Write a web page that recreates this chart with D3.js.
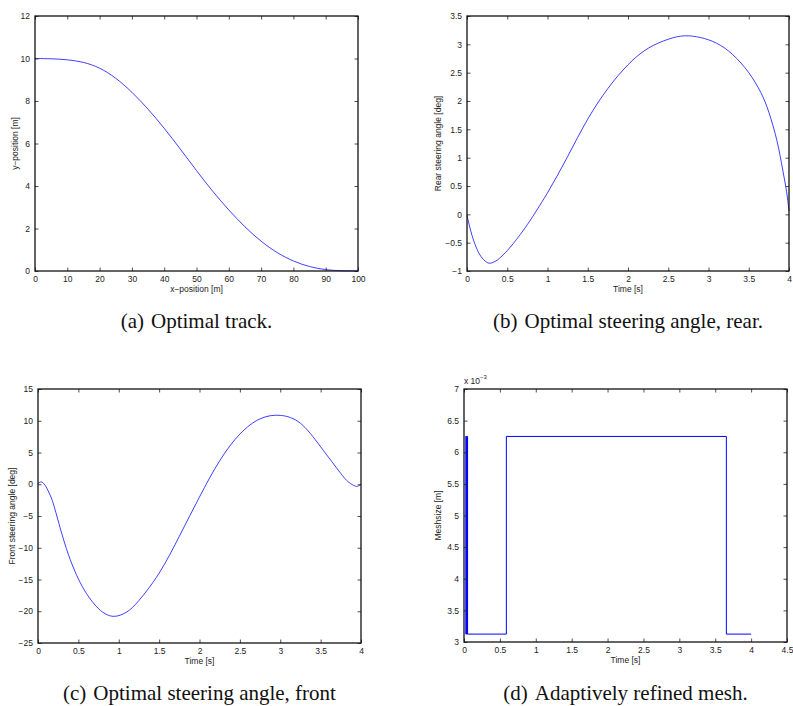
<!DOCTYPE html>
<html>
<head>
<meta charset="utf-8">
<script src="https://cdn.jsdelivr.net/npm/d3@7"></script>
<style>
  body { margin: 0; background: #fff; }
  svg { display: block; }
  .tick text { font-family: "Liberation Sans", Arial, sans-serif; font-size: 8.5px; fill: #222; }
  .lbl { font-family: "Liberation Sans", Arial, sans-serif; font-size: 8.5px; fill: #222; }
  .cap { font-family: "Liberation Serif", "Times New Roman", serif; font-size: 21px; fill: #111; }
</style>
</head>
<body>
<svg id="container"></svg>
<script>
// (a) optimal track
const trackX = [0, 5, 10, 15, 20, 25, 30, 35, 40, 45, 50, 55, 60, 65, 70, 75, 80, 85, 90, 95, 100]
const trackY = [10, 9.99, 9.95, 9.84, 9.58, 9.1, 8.43, 7.63, 6.73, 5.74, 4.72, 3.74, 2.86, 2.06, 1.38, 0.84, 0.45, 0.19, 0.05, 0.005, 0]

// (b) rear steering angle [deg]
const rearT = [0, 0.05, 0.1, 0.15, 0.2, 0.25, 0.3, 0.35, 0.4, 0.5, 0.6, 0.75, 1, 1.25, 1.5, 1.75, 2, 2.25, 2.5, 2.7, 2.9, 3.1, 3.3, 3.5, 3.65, 3.75, 3.85, 3.92, 3.97, 4]
const rearA = [-0.02, -0.31, -0.53, -0.69, -0.79, -0.85, -0.86, -0.83, -0.78, -0.64, -0.47, -0.18, 0.38, 1.02, 1.68, 2.22, 2.64, 2.93, 3.09, 3.15, 3.12, 3.02, 2.82, 2.5, 2.15, 1.8, 1.3, 0.8, 0.4, 0.06]

// (c) front steering angle [deg]
const frontT = [0, 0.03, 0.06, 0.1, 0.15, 0.2, 0.3, 0.4, 0.5, 0.6, 0.75, 0.93, 1.1, 1.25, 1.5, 1.75, 2, 2.25, 2.5, 2.75, 3, 3.25, 3.5, 3.75, 3.85, 3.93, 3.97, 4]
const frontA = [0.1, 0.35, 0.25, -0.4, -1.7, -3.5, -8.0, -11.9, -14.9, -17.2, -19.6, -20.8, -20.1, -18.3, -14.0, -8.2, -2.0, 3.7, 7.9, 10.3, 10.85, 9.6, 5.9, 1.7, 0.3, -0.3, -0.25, 0.0]

// (d) mesh size [m] x 1e-3, step function (value holds until next time)
const meshT = [0.02, 0.026, 0.032, 0.038, 0.044, 0.05, 0.59, 3.655, 4.0]
const meshH = [6.25, 3.125, 6.25, 3.125, 6.25, 3.125, 6.25, 3.125, 3.125]

// tick labels
const ticksA_x = [0, 10, 20, 30, 40, 50, 60, 70, 80, 90, 100]
const ticksA_y = [0, 2, 4, 6, 8, 10, 12]
const ticksB_x = [0, 0.5, 1, 1.5, 2, 2.5, 3, 3.5, 4]
const ticksB_y = [-1, -0.5, 0, 0.5, 1, 1.5, 2, 2.5, 3, 3.5]
const ticksC_x = [0, 0.5, 1, 1.5, 2, 2.5, 3, 3.5, 4]
const ticksC_y = [-25, -20, -15, -10, -5, 0, 5, 10, 15]
const ticksD_x = [0, 0.5, 1, 1.5, 2, 2.5, 3, 3.5, 4, 4.5]
const ticksD_y = [3, 3.5, 4, 4.5, 5, 5.5, 6, 6.5, 7]

const zip = (a, b) => a.map((v, i) => [v, b[i]])

const panels = [
	{ box: [35, 16, 358, 271], xd: [0, 100], yd: [0, 12], xt: ticksA_x, yt: ticksA_y,
	  data: zip(trackX, trackY), curve: d3.curveBasis, width: 0.75,
	  xlab: "x\u2212position [m]", ylab: "y\u2212position [m]", ylx: 15,
	  cap: ["(a)", "Optimal track."], capY: 328 },
	{ box: [467, 16, 789, 271], xd: [0, 4], yd: [-1, 3.5], xt: ticksB_x, yt: ticksB_y,
	  data: zip(rearT, rearA), curve: d3.curveNatural, width: 0.75,
	  xlab: "Time [s]", ylab: "Rear steering angle [deg]", ylx: 438,
	  cap: ["(b)", "Optimal steering angle, rear."], capY: 328 },
	{ box: [38, 389, 361, 643], xd: [0, 4], yd: [-25, 15], xt: ticksC_x, yt: ticksC_y,
	  data: zip(frontT, frontA), curve: d3.curveNatural, width: 0.75,
	  xlab: "Time [s]", ylab: "Front steering angle [deg]", ylx: 12,
	  cap: ["(c)", "Optimal steering angle, front"], capY: 700 },
	{ box: [464, 389, 787, 642], xd: [0, 4.5], yd: [3, 7], xt: ticksD_x, yt: ticksD_y,
	  data: zip(meshT, meshH), curve: d3.curveStepAfter, width: 1,
	  xlab: "Time [s]", ylab: "Meshsize [m]", ylx: 438,
	  cap: ["(d)", "Adaptively refined mesh."], capY: 700, expo: true }
]

const fmt = d => d3.format("")(d)

const drawPanel = (svg, p) => {
	const [x0, y0, x1, y1] = p.box
	const x = d3.scaleLinear().domain(p.xd).range([x0, x1])
	const y = d3.scaleLinear().domain(p.yd).range([y1, y0])
	const g = svg.append("g")

	// curve
	g.append("path")
	 .attr("d", d3.line().x(d => x(d[0])).y(d => y(d[1])).curve(p.curve)(p.data))
	 .attr("fill", "none")
	 .attr("stroke", "#0000ff")
	 .attr("stroke-width", p.width)

	// axes, ticks pointing inward on all four sides
	const tl = 3.5
	g.append("g").attr("transform", `translate(0,${y1})`)
	 .call(d3.axisBottom(x).tickValues(p.xt).tickFormat(fmt).tickSizeInner(-tl).tickSizeOuter(0).tickPadding(5))
	g.append("g").attr("transform", `translate(0,${y0})`)
	 .call(d3.axisTop(x).tickValues(p.xt).tickFormat("").tickSizeInner(-tl).tickSizeOuter(0))
	g.append("g").attr("transform", `translate(${x0},0)`)
	 .call(d3.axisLeft(y).tickValues(p.yt).tickFormat(fmt).tickSizeInner(-tl).tickSizeOuter(0).tickPadding(5))
	g.append("g").attr("transform", `translate(${x1},0)`)
	 .call(d3.axisRight(y).tickValues(p.yt).tickFormat("").tickSizeInner(-tl).tickSizeOuter(0))
	g.selectAll(".domain").remove()
	g.selectAll(".tick line").attr("stroke", "#222").attr("stroke-width", 0.8)

	g.append("rect")
	 .attr("x", x0).attr("y", y0)
	 .attr("width", x1 - x0).attr("height", y1 - y0)
	 .attr("fill", "none").attr("stroke", "#111").attr("stroke-width", 1.3)

	g.append("text").attr("class", "lbl")
	 .attr("x", (x0 + x1) / 2).attr("y", y1 + 21)
	 .attr("text-anchor", "middle").text(p.xlab)
	g.append("text").attr("class", "lbl")
	 .attr("transform", `translate(${p.ylx},${(y0 + y1) / 2}) rotate(-90)`)
	 .attr("text-anchor", "middle").attr("dy", "0.35em").text(p.ylab)

	if (p.expo) {
		const t = g.append("text").attr("class", "lbl").attr("x", x0).attr("y", y0 - 5)
		t.append("tspan").text("x 10")
		t.append("tspan").attr("dy", -5).attr("font-size", "6px").text("\u22123")
	}

	const c = g.append("text").attr("class", "cap")
	 .attr("x", (x0 + x1) / 2).attr("y", p.capY).attr("text-anchor", "middle")
	c.append("tspan").text(p.cap[0])
	c.append("tspan").attr("dx", 7).text(p.cap[1])
}

const setup = () => {
	const svg = d3.select("#container").attr("width", 793).attr("height", 706)
	svg.append("rect").attr("width", 793).attr("height", 706).attr("fill", "#fff")
	for (let p of panels) {
		drawPanel(svg, p)
	}
}

document.addEventListener("DOMContentLoaded", setup)
</script>
</body>
</html>
